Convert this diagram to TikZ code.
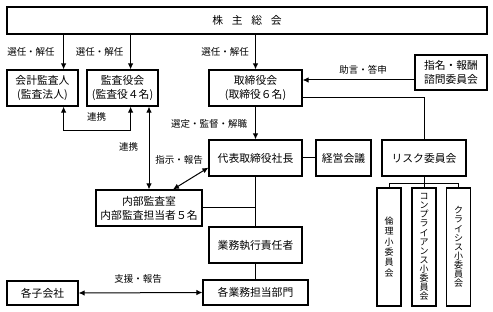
\documentclass[tikz,border=0pt]{standalone}
\usepackage{fontspec}
\setmainfont{Noto Sans CJK JP}
\usetikzlibrary{arrows.meta}

\begin{document}
\begin{tikzpicture}[x=1pt,y=-1pt,font=\fontsize{10.8}{14}\selectfont,
  box/.style={draw,line width=1.2pt,rectangle,inner sep=0pt,align=center},
  tatebox/.style={box,minimum width=24pt,minimum height=118pt,font=\fontsize{9}{9.1}\selectfont},
  lab/.style={font=\fontsize{9.5}{11}\selectfont,inner sep=0pt},
  conn/.style={line width=1pt},
  arr/.style={conn,-{Latex[length=6pt,width=5.5pt]}},
  arrs/.style={conn,{Latex[length=6pt,width=5.5pt]}-{Latex[length=6pt,width=5.5pt]}}]
\useasboundingbox (0,0) rectangle (493,312);

% Boxes, centres in pixel units from the top left corner.
\node[box,minimum width=480pt,minimum height=27pt] (soukai) at (247,20.5) {株\hspace{8.7pt}主\hspace{8.7pt}総\hspace{8.7pt}会};
\node[box,minimum width=71pt,minimum height=36pt] (kaikei) at (42.5,88) {会計監査人\\(監査法人)};
\node[box,minimum width=71pt,minimum height=36pt] (kansa) at (122.5,88) {監査役会\\(監査役４名)};
\node[box,minimum width=93pt,minimum height=36pt] (torishimari) at (255.5,88) {取締役会\\(取締役６名)};
\node[box,minimum width=72pt,minimum height=35pt] (shimon) at (451,72.5) {指名・報酬\\諮問委員会};
\node[box,minimum width=93pt,minimum height=36pt] (shachou) at (255.5,158) {代表取締役社長};
\node[box,minimum width=55pt,minimum height=36pt] (keiei) at (343.5,158) {経営会議};
\node[box,minimum width=84pt,minimum height=36pt] (risk) at (424,158) {リスク委員会};
\node[box,minimum width=106pt,minimum height=36pt] (naibu) at (149,208) {内部監査室\\内部監査担当者５名};
\node[box,minimum width=93pt,minimum height=36pt] (shikkou) at (255.5,245) {業務執行責任者};
\node[box,minimum width=105pt,minimum height=25pt] (bumon) at (255.5,292.5) {各業務担当部門};
\node[box,minimum width=71pt,minimum height=24pt] (kogaisha) at (42.5,293) {各子会社};

% Risk sub-committees, vertical text
\node[tatebox,font=\fontsize{9}{10.3}\selectfont] (rinri) at (389,247) {倫\\理\\小\\委\\員\\会};
\node[tatebox] (compliance) at (424,247) {コ\\ン\\プ\\ラ\\イ\\ア\\ン\\ス\\小\\委\\員\\会};
\node[tatebox] (crisis) at (458.5,247) {ク\\ラ\\イ\\シ\\ス\\小\\委\\員\\会};

% Labels
\node[lab] (sennin1) at (31,52) {選任・解任};
\node[lab] (sennin2) at (99.5,52) {選任・解任};
\node[lab] (sennin3) at (225,52) {選任・解任};
\node[lab] (jogen) at (363,70) {助言・答申};
\node[lab] (renkei1) at (96.5,117) {連携};
\node[lab] (renkei2) at (128.5,147) {連携};
\node[lab] (sentei) at (209,124) {選定・監督・解職};
\node[lab] (shiji) at (179,160) {指示・報告};
\node[lab] (shien) at (138,279) {支援・報告};

% Connectors
\draw[arr] ([xshift=-15pt]kaikei.north east |- soukai.south) -- ([xshift=-15pt]kaikei.north east);
\draw[arr] ([xshift=-28pt]kansa.north east |- soukai.south) -- ([xshift=-28pt]kansa.north east);
\draw[arr] (soukai.south -| torishimari.north) -- (torishimari.north);
\draw[arrs] ([xshift=-15pt]kaikei.south east) -- ++(0,24) -| ([xshift=-28pt]kansa.south east);
\draw[arrs] (kansa.south -| naibu.north) -- (naibu.north);
\draw[arr] ([yshift=-7.5pt]shimon.west) -- ([yshift=-7.5pt]shimon.west -| torishimari.east);
\draw[conn] ([yshift=-10pt]torishimari.east) -| (risk.north);
\draw[arr] (torishimari.south) -- (shachou.north);
\draw[conn] (shachou.east) -- (keiei.west);
\draw[conn] (shachou.south) -- (shikkou.north);
\draw[conn] (naibu.east) -- (naibu.east -| shachou.south);
\draw[conn] (shikkou.south) -- (bumon.north);
\draw[arrs] ([xshift=24pt]naibu.north) -- ([yshift=9pt]shachou.south west);
\draw[arrs] (kogaisha.east) -- (bumon.west);
\draw[conn] (risk.south) -- ++(0,7) coordinate (riskbr);
\draw[conn] (rinri.north) |- (riskbr) -| (crisis.north);
\draw[conn] (riskbr) -- (compliance.north);
\end{tikzpicture}
\end{document}
